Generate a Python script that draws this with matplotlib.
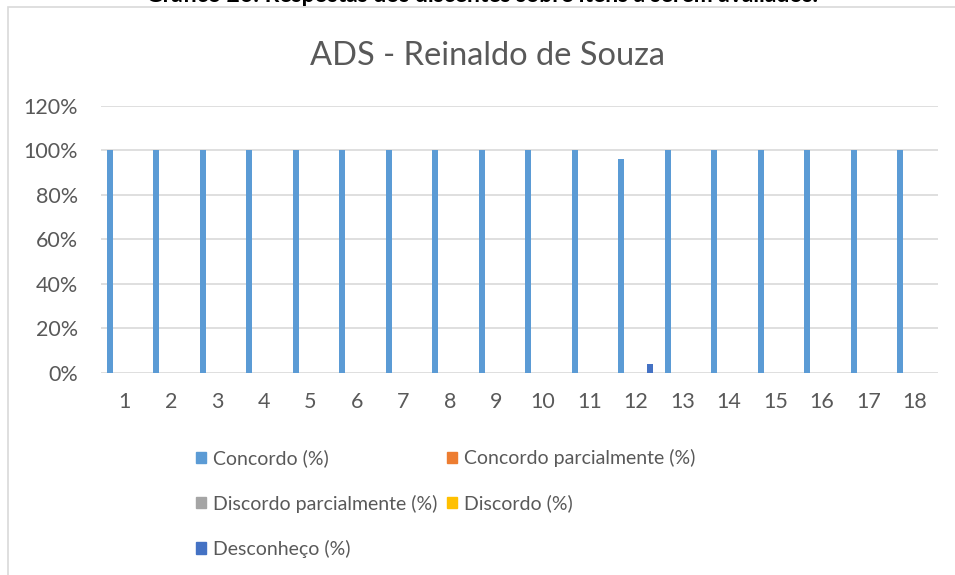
import matplotlib.pyplot as plt
plt.switch_backend('agg')
import numpy as np
from matplotlib.patches import Rectangle

# data
items = [str(i) for i in range(1, 19)]
concordo = [1.0] * 11 + [0.96] + [1.0] * 6
concordo_parc = [0.0] * 18
discordo_parc = [0.0] * 18
discordo = [0.0] * 18
desconheco = [0.0] * 11 + [0.04] + [0.0] * 6

series = [
    ("Concordo (%)", concordo, "#5B9BD5"),
    ("Concordo parcialmente (%)", concordo_parc, "#ED7D31"),
    ("Discordo parcialmente (%)", discordo_parc, "#A5A5A5"),
    ("Discordo (%)", discordo, "#FFC000"),
    ("Desconheço (%)", desconheco, "#4472C4"),
]

W, H = 955, 575
plt.rcParams['font.family'] = ['Lato', 'DejaVu Sans']
fig = plt.figure(figsize=(W / 100, H / 100), dpi=100)

# chart border (cut by the image edge)
fig.patches.append(Rectangle((8 / W, -0.1), 1.2, 1 - 7 / H + 0.1, transform=fig.transFigure,
                             fill=False, edgecolor="#D9D9D9", linewidth=1.2))

# caption of the page, mostly cut off
fig.text(482 / W, 1 - 2 / H, "Gráfico 26: Respostas dos discentes sobre itens a serem avaliados.",
         ha="center", va="baseline", fontsize=16.5, fontweight="bold", color="black")

ax = fig.add_axes([101 / W, 1 - 373 / H, (938 - 101) / W, (373 - 105.7) / H])

x = np.arange(1, len(items) + 1)
step = 0.155
width = 0.125
handles = []
for i, (name, vals, color) in enumerate(series):
    ax.bar(x + (i - 2) * step, vals, width=width, color=color, zorder=3)
    handles.append(Rectangle((0, 0), 1, 1, color=color, label=name))

ax.set_xlim(0.5, len(items) + 0.5)
ax.set_ylim(0, 1.2)
ax.set_yticks(np.arange(0, 1.21, 0.2))
ax.set_yticklabels([f"{int(round(v * 100))}%" for v in np.arange(0, 1.21, 0.2)])
ax.set_xticks(x)
ax.set_xticklabels(items)
ax.tick_params(axis="both", length=0, labelsize=15.5, colors="#595959")
ax.tick_params(axis="y", pad=16.5)
ax.tick_params(axis="x", pad=14)
ax.grid(axis="y", color="#D9D9D9", linewidth=1.2, zorder=0)
for s in ax.spines.values():
    s.set_visible(False)

fig.text(487 / W, 1 - 56 / H, "ADS - Reinaldo de Souza", ha="center", va="center",
         fontsize=23.5, color="#595959")

order = [0, 2, 4, 1, 3]
fig.legend([handles[i] for i in order], [series[i][0] for i in order],
           loc="upper left", bbox_to_anchor=(196 / W, 1 - 449 / H), ncol=2,
           frameon=False, fontsize=14, labelcolor="#595959",
           handlelength=0.52, handleheight=0.52, handletextpad=0.35,
           labelspacing=1.41, columnspacing=0.5, borderpad=0, borderaxespad=0)

fig.savefig("out.png", dpi=100, facecolor="white")
